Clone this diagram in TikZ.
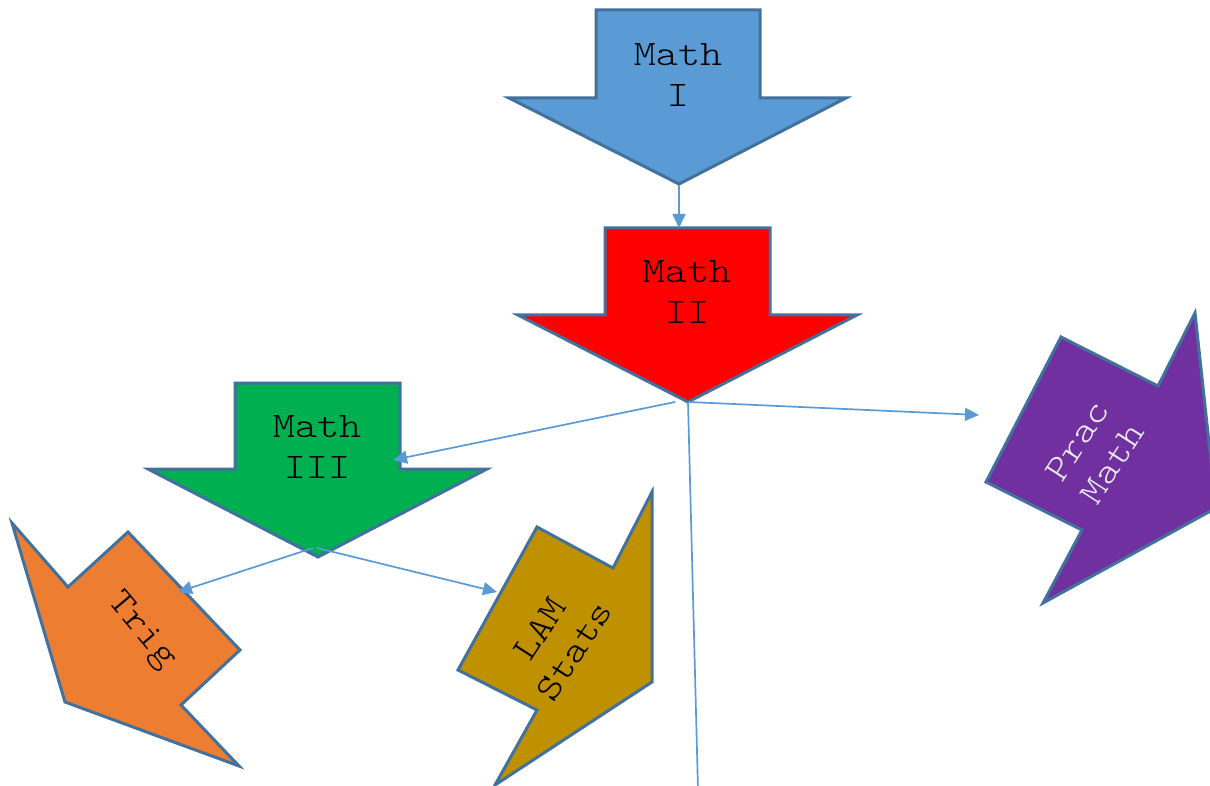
\documentclass[tikz,border=0pt]{standalone}
\usepackage{fontspec}
\usetikzlibrary{arrows.meta}
\newfontfamily\courfont{lmmonolt10-regular.otf}[FakeStretch=1.17]
\definecolor{edgec}{HTML}{41719C}
\definecolor{connc}{HTML}{5B9BD5}
\definecolor{mathone}{HTML}{5B9BD5}
\definecolor{mathtwo}{HTML}{FF0000}
\definecolor{maththree}{HTML}{00B050}
\definecolor{trigc}{HTML}{ED7D31}
\definecolor{lamc}{HTML}{BF9000}
\definecolor{pracc}{HTML}{7030A0}
\definecolor{pracText}{HTML}{EAEAEA}
\newcommand\lblfont{\courfont\fontsize{36}{41}\selectfont}
\tikzset{
  shp/.style={draw=edgec, line width=3pt, line join=miter},
  conn/.style={draw=connc, line width=1.7pt, -{Triangle[length=14pt,width=13pt]}},
  connplain/.style={draw=connc, line width=1.7pt},
  lbl/.style={font=\lblfont, align=center, inner sep=0pt, text=black},
}
\begin{document}
\begin{tikzpicture}[x=1pt,y=-1pt]
\useasboundingbox (0,0) rectangle (1210,786);
\clip (0,0) rectangle (1210,786);

% shapes
\draw[shp, fill=mathone] (596,10) -- (760,10) -- (760,98) -- (846,98) -- (679,184) -- (509,98) -- (596,98) -- cycle;
\draw[shp, fill=mathtwo] (605,228) -- (770,228) -- (770,315) -- (857,315) -- (688,402) -- (518,315) -- (605,315) -- cycle;
\draw[shp, fill=maththree] (235,383) -- (400,383) -- (400,469) -- (487,469) -- (318,557) -- (148,469) -- (235,469) -- cycle;
\draw[shp, fill=trigc] (12,523) -- (68,587) -- (128,532) -- (240,650) -- (181,705) -- (239,766) -- (65,702) -- cycle;
\draw[shp, fill=lamc] (652,492) -- (613,568) -- (537,527) -- (458,670) -- (537,710) -- (495,785) -- (652,682) -- cycle;
\draw[shp, fill=pracc] (1195,313) -- (1158,386) -- (1061,337) -- (986,482) -- (1082,530) -- (1043,603) -- (1216,508) -- cycle;

% labels
\node[lbl] (m1lbl) at (678,75) {Math\\I};
\node[lbl] (m2lbl) at (687,292) {Math\\II};
\node[lbl] (m3lbl) at (317,447) {Math\\III};
\node[lbl, rotate=-50] (triglbl) at (141,631) {Trig};
\node[lbl, rotate=57] (lamlbl) at (557,640) {LAM\\Stats};
\node[lbl, rotate=57, text=pracText] (praclbl) at (1095,452) {Prac\\Math};

% connector end points
\coordinate (m1tip) at (679,185);
\coordinate (m2top) at (679,228);
\coordinate (m2l) at (675,402);
\coordinate (m2r) at (689,402);
\coordinate (m2c) at (688,402);
\coordinate (m3in) at (393,460);
\coordinate (pmin) at (979,415);
\coordinate (bot) at (698,790);
\coordinate (m3l) at (313,548);
\coordinate (m3r) at (317,548);
\coordinate (trigin) at (178,592);
\coordinate (lamin) at (497,592);

% connectors
\draw[conn] (m1tip) -- (m2top);
\draw[conn] (m2l) -- (m3in);
\draw[conn] (m2r) -- (pmin);
\draw[connplain] (m2c) -- (bot);
\draw[conn] (m3l) -- (trigin);
\draw[conn] (m3r) -- (lamin);
\end{tikzpicture}
\end{document}
